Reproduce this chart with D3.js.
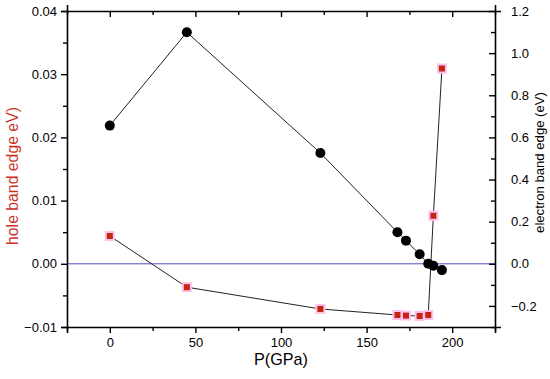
<!DOCTYPE html>
<html lang="en">
<head>
    <meta charset="UTF-8">
    <title>band edge vs pressure</title>
    <style>
        body { margin: 0; background: #fff; }
        text { font-family: "Liberation Sans", Arial, sans-serif; }
    </style>
</head>
<body>
    <script src="https://cdn.jsdelivr.net/npm/d3@7/dist/d3.min.js"></script>
    <script>
        // pressure points (GPa)
        const pressure = [0, 45, 123, 168, 173, 181, 186, 189, 194];
        // hole band edge, left axis (eV)
        const holeEdge = [0.0044, -0.0037, -0.00715, -0.0081, -0.0082, -0.00826, -0.0081, 0.0076, 0.0309];
        // electron band edge, right axis (eV)
        const electronEdge = [0.656, 1.099, 0.526, 0.15, 0.11, 0.045, 0.0, -0.009, -0.03];

        const xTicks = [0, 50, 100, 150, 200];
        const leftTicks = [-0.01, 0.00, 0.01, 0.02, 0.03, 0.04];
        const rightTicks = [-0.2, 0.0, 0.2, 0.4, 0.6, 0.8, 1.0, 1.2];

        const w = 550;
        const h = 379;
        const m = { left: 67, right: 55, top: 11, bottom: 52 };

        const svg = d3.select('body')
            .append('svg')
            .attr('width', w)
            .attr('height', h)

        const x = d3.scaleLinear().domain([-25, 225]).range([m.left, w - m.right]);
        const yL = d3.scaleLinear().domain([-0.01, 0.04]).range([h - m.bottom, m.top]);
        const yR = d3.scaleLinear().domain([-0.3, 1.2]).range([h - m.bottom, m.top]);

        const minorX = d3.range(-25, 226, 25);
        const minorL = d3.range(-0.01, 0.0401, 0.005);
        const minorR = d3.range(-0.3, 1.201, 0.1);

        // zero line
        svg.append('line')
            .attr('x1', x(-25)).attr('x2', x(225))
            .attr('y1', yL(0)).attr('y2', yL(0))
            .attr('stroke', '#4f4fc8').attr('stroke-width', 1);

        // bottom axis (ticks outward)
        const gx = svg.append('g')
            .attr('transform', `translate(0,${h - m.bottom})`)
            .call(d3.axisBottom(x).tickValues(minorX).tickSize(6).tickPadding(5)
                .tickFormat(d => xTicks.includes(d) ? d : ''));
        gx.selectAll('.tick line').attr('y2', d => xTicks.includes(d) ? 6 : 4);

        // top axis (ticks inward)
        const gt = svg.append('g')
            .attr('transform', `translate(0,${m.top})`)
            .call(d3.axisTop(x).tickValues(minorX).tickFormat(''));
        gt.selectAll('.tick line').attr('y2', d => xTicks.includes(d) ? 6 : 4);

        // left axis (ticks outward)
        const fmtL = d3.format('.2f');
        const gl = svg.append('g')
            .attr('transform', `translate(${m.left},0)`)
            .call(d3.axisLeft(yL).tickValues(minorL).tickSize(6).tickPadding(4)
                .tickFormat((d, i) => i % 2 === 0 ? fmtL(d) : ''));
        gl.selectAll('.tick line').attr('x2', (d, i) => i % 2 === 0 ? -6 : -4);

        // right axis (ticks inward)
        const fmtR = d3.format('.1f');
        const gr = svg.append('g')
            .attr('transform', `translate(${w - m.right},0)`)
            .call(d3.axisRight(yR).tickValues(minorR).tickSize(6).tickPadding(10)
                .tickFormat((d, i) => i % 2 === 1 ? fmtR(d) : ''));
        gr.selectAll('.tick line').attr('x2', (d, i) => i % 2 === 1 ? -6 : -4);

        svg.selectAll('.domain').attr('stroke', '#000').attr('stroke-width', 1.6);
        svg.selectAll('.tick line').attr('stroke', '#000').attr('stroke-width', 1.4);
        svg.selectAll('.tick text').attr('font-size', '13px').attr('fill', '#000')
            .attr('font-family', '"Liberation Sans", Arial, sans-serif');

        // connecting lines
        const lineL = d3.line().x((d, i) => x(pressure[i])).y(d => yL(d));
        const lineR = d3.line().x((d, i) => x(pressure[i])).y(d => yR(d));

        svg.append('path').datum(electronEdge).attr('d', lineR)
            .attr('fill', 'none').attr('stroke', '#222').attr('stroke-width', 1);
        svg.append('path').datum(holeEdge).attr('d', lineL)
            .attr('fill', 'none').attr('stroke', '#222').attr('stroke-width', 1);

        // electron markers
        svg.selectAll('circle.e')
            .data(electronEdge)
            .enter()
            .append('circle')
            .attr('class', 'e')
            .attr('cx', (d, i) => x(pressure[i]))
            .attr('cy', d => yR(d))
            .attr('r', 5)
            .attr('fill', '#000');

        // hole markers
        const s = 8;
        svg.selectAll('rect.h')
            .data(holeEdge)
            .enter()
            .append('rect')
            .attr('class', 'h')
            .attr('x', (d, i) => x(pressure[i]) - s / 2)
            .attr('y', d => yL(d) - s / 2)
            .attr('width', s)
            .attr('height', s)
            .attr('fill', '#c32612')
            .attr('stroke', '#ffc0ec')
            .attr('stroke-width', 2);

        // fit a title to the length it has in the picture
        function fit(t, len) {
            const l0 = t.node().getComputedTextLength();
            const f = 16 * len / l0;
            t.attr('font-size', f + 'px');
            return f;
        }

        // axis titles
        const tx = svg.append('text')
            .text('P(GPa)')
            .attr('x', (m.left + w - m.right) / 2)
            .attr('text-anchor', 'middle')
            .attr('font-size', '16px');
        const fx = fit(tx, 54);
        tx.attr('y', 353 + 0.73 * fx);

        const tl = svg.append('text')
            .text('hole band edge eV)')
            .attr('text-anchor', 'middle')
            .attr('font-size', '16px')
            .attr('fill', '#c8321e');
        const fl = fit(tl, 138);
        tl.attr('transform', `translate(${7 + 0.72 * fl},176) rotate(-90)`);

        const tr = svg.append('text')
            .text('electron band edge (eV)')
            .attr('text-anchor', 'middle')
            .attr('font-size', '16px')
            .attr('fill', '#000');
        const fr = fit(tr, 141);
        tr.attr('transform', `translate(${535 + 0.72 * fr},162.5) rotate(-90)`);
    </script>
</body>
</html>
